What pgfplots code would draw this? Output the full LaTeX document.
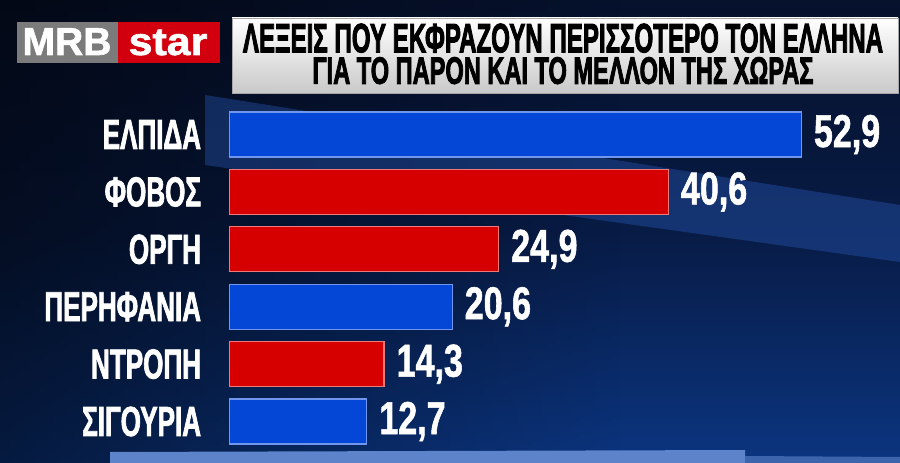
\documentclass[border=0pt]{standalone}
\usepackage{fontspec}
\setmainfont{Liberation Sans}
\newfontfamily\labfont[FakeStretch=0.62,FakeBold=1.6]{Liberation Sans}
\newfontfamily\valfont[FakeStretch=0.74,FakeBold=1.2]{Liberation Sans}
\newfontfamily\titfont[FakeBold=3]{Liberation Sans}
\newfontfamily\logofont[FakeBold=1.5]{Liberation Sans}
\usepackage{graphicx}
\usepackage{pgfplots}
\usepackage{pgfplotstable}
\pgfplotsset{compat=1.18}
\usetikzlibrary{fadings}
\definecolor{barblue}{HTML}{0447D6}
\definecolor{barblueedge}{HTML}{7096EE}
\definecolor{barred}{HTML}{D60000}
\definecolor{barrededge}{HTML}{EE7A7A}
\definecolor{bgtop}{HTML}{06112C}
\definecolor{bgmid}{HTML}{081B45}
\definecolor{bgbot}{HTML}{0B3580}
\definecolor{streak}{HTML}{2A5CBC}
\definecolor{strip}{HTML}{5D84CA}
\definecolor{logogray}{HTML}{7B7B7B}
\definecolor{logored}{HTML}{D2000F}
\definecolor{titlegray}{HTML}{C9C9C9}

\pgfplotstableread{
x y lab
52.9 0 52,9
20.6 3 20,6
12.7 5 12,7
}\bluedata
\pgfplotstableread{
x y lab
40.6 1 40,6
24.9 2 24,9
14.3 4 14,3
}\reddata

\begin{document}
\begin{tikzpicture}[x=1pt,y=1pt]
% background
\shade[top color=bgtop, bottom color=bgbot, middle color=bgmid] (0,0) rectangle (900,463);
\fill[black, opacity=0.5, path fading=east] (0,0) rectangle (620,463);
\fill[streak, opacity=0.38] (205,463-95) -- (205,463-165) -- (900,463-262) -- (900,463-205) -- cycle;
\fill[strip] (110,0) -- (110,463-452) -- (745,463-450) -- (745,0) -- cycle;
\fill[strip!60!bgbot] (745,0) -- (745,463-456) -- (900,463-457) -- (900,0) -- cycle;
% logo
\fill[logogray] (17,463-63) rectangle (118,463-22);
\fill[logored] (118,463-63) rectangle (220,463-22);
\node[anchor=base, text=white, inner sep=0pt, font=\logofont\bfseries\fontsize{39}{39}\selectfont] at (67,463-55) {MRB};
\node[anchor=base, text=white, inner sep=0pt, font=\logofont\bfseries\fontsize{39}{39}\selectfont] at (168,463-55) {\scalebox{1.1}[1]{star}};
% title box
\shade[top color=white, bottom color=titlegray, draw=gray!70, line width=0.8pt] (232,463-93) rectangle (898,463-18);
\node[anchor=north, text=black, inner sep=0pt, align=center, font=\titfont\bfseries\fontsize{10}{31.5}\selectfont] at (563,463-23.5) {\resizebox{640pt}{28.5pt}{ΛΕΞΕΙΣ ΠΟΥ ΕΚΦΡΑΖΟΥΝ ΠΕΡΙΣΣΟΤΕΡΟ ΤΟΝ ΕΛΛΗΝΑ}\\\resizebox{501pt}{26.5pt}{ΓΙΑ ΤΟ ΠΑΡΟΝ ΚΑΙ ΤΟ ΜΕΛΛΟΝ ΤΗΣ ΧΩΡΑΣ}};
% chart
\begin{axis}[
  at={(229.5pt,12.8pt)}, anchor=south west,
  scale only axis, width=648.6pt, height=344.4pt,
  xmin=0, xmax=60, ymin=-0.5, ymax=5.5, y dir=reverse,
  xbar, bar width=45pt,
  axis line style={draw=none}, tick style={draw=none},
  xtick=\empty,
  ytick={0,1,2,3,4,5},
  yticklabels={ΕΛΠΙΔΑ,ΦΟΒΟΣ,ΟΡΓΗ,ΠΕΡΗΦΑΝΙΑ,ΝΤΡΟΠΗ,ΣΙΓΟΥΡΙΑ},
  yticklabel style={text=white, inner sep=0pt, xshift=-24pt, anchor=east, font=\labfont\bfseries\fontsize{42}{42}\selectfont},
  clip=false,
  point meta=explicit symbolic,
  nodes near coords,
  nodes near coords style={text=white, anchor=west, inner sep=0pt, xshift=12pt, font=\valfont\bfseries\fontsize{46}{46}\selectfont},
]
\addplot[bar shift=0pt, fill=barblue, draw=barblueedge, line width=1.2pt] table[x=x, y=y, meta=lab] {\bluedata};
\addplot[bar shift=0pt, fill=barred, draw=barrededge, line width=1.2pt] table[x=x, y=y, meta=lab] {\reddata};
\end{axis}
\pgfresetboundingbox
\path (0,0) rectangle (900,463);
\end{tikzpicture}
\end{document}
